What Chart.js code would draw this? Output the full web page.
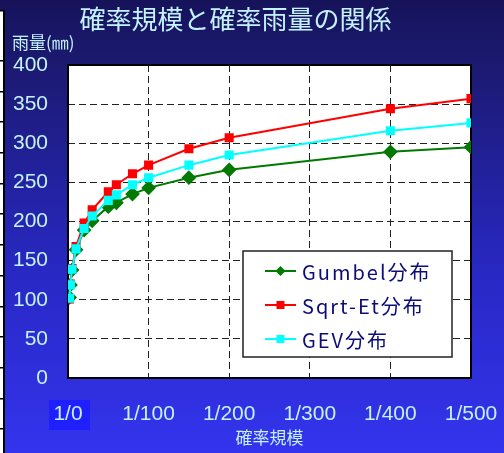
<!DOCTYPE html>
<html>
<head>
<meta charset="utf-8">
<script src="https://cdn.jsdelivr.net/npm/chart.js@4"></script>
<style>
  html, body { margin: 0; padding: 0; background: #1a1766; }
  #wrap { width: 504px; height: 453px; }
</style>
</head>
<body>
<div id="wrap"><canvas id="rainChart" width="504" height="453"></canvas></div>
<script>
// return period (years) -> probable rainfall (mm)
const returnPeriods = [2, 3, 5, 10, 20, 30, 50, 60, 80, 100, 150, 200, 400, 500];
const gumbel = [103, 119, 138, 164, 189, 201, 219, 224, 235, 243, 256, 266, 289, 295];
const sqrtEt = [101, 120, 140, 168, 198, 215, 238, 247, 261, 272, 293, 307, 344, 357];
const gev    = [102, 119, 139, 165, 191, 207, 227, 234, 247, 256, 272, 285, 316, 326];
const seriesNames = ['Gumbel分布', 'Sqrt-Et分布', 'GEV分布'];
const xTicks = [0, 100, 200, 300, 400, 500];
const yTicks = [0, 50, 100, 150, 200, 250, 300, 350, 400];

const labelColor = '#c4f2ff';

function toPoints(values) {
    return returnPeriods.map((p, i) => ({ x: p, y: values[i] }));
}

// background, white plot area, highlighted "1/0" label, left strip
const backdrop = {
    id: 'backdrop',
    beforeDraw(chart) {
        const { ctx, chartArea } = chart;
        const g = ctx.createLinearGradient(0, 0, 0, chart.height);
        g.addColorStop(0, '#16135a');
        g.addColorStop(0.15, '#1c1a72');
        g.addColorStop(0.6, '#2828c4');
        g.addColorStop(1, '#3434ee');
        ctx.save();
        ctx.fillStyle = g;
        ctx.fillRect(0, 0, chart.width, chart.height);

        ctx.fillStyle = '#ffffff';
        ctx.fillRect(chartArea.left, chartArea.top, chartArea.right - chartArea.left, chartArea.bottom - chartArea.top);

        // selection box behind the first x label
        const x0 = chart.scales.x.getPixelForValue(0);
        ctx.fillStyle = '#2020ff';
        ctx.fillRect(x0 - 19, chartArea.bottom + 22, 41, 30);

        // left edge strip
        ctx.fillStyle = '#ffffff';
        ctx.fillRect(0, 10, 3, chart.height - 10);
        ctx.fillStyle = '#000000';
        ctx.fillRect(3, 10, 2, chart.height - 10);
        ctx.fillRect(0, 10, 4, 1.5);
        for (let y = 60; y < chart.height; y += 30.7) {
            ctx.fillRect(0, Math.round(y), 4, 1.5);
        }
        ctx.restore();
    },
    afterDraw(chart) {
        const { ctx } = chart;
        ctx.save();
        // y unit label
        ctx.fillStyle = labelColor;
        ctx.font = '17px "Noto Sans CJK JP"';
        ctx.textBaseline = 'middle';
        ctx.textAlign = 'left';
        ctx.fillText('雨量(㎜)', 12, 43);
        ctx.restore();
    }
};

// plot frame and legend box inside the plot
const frameLegend = {
    id: 'frameLegend',
    beforeDatasetsDraw(chart) {
        const { ctx, chartArea } = chart;
        ctx.save();
        ctx.strokeStyle = '#000000';
        ctx.lineWidth = 2;
        ctx.strokeRect(chartArea.left, chartArea.top, chartArea.right - chartArea.left, chartArea.bottom - chartArea.top);
        ctx.restore();
    },
    afterDatasetsDraw(chart) {
        const { ctx } = chart;
        const bx = 243, by = 251, bw = 209, bh = 106;
        ctx.save();
        ctx.fillStyle = '#ffffff';
        ctx.fillRect(bx, by, bw, bh);
        ctx.strokeStyle = '#222222';
        ctx.lineWidth = 1.5;
        ctx.strokeRect(bx, by, bw, bh);

        const rows = [271, 305, 339];
        ctx.font = '20px "Noto Sans CJK JP"';
        ctx.letterSpacing = '2px';
        ctx.textBaseline = 'middle';
        [0, 1, 2].forEach((di, i) => {
            const ds = chart.data.datasets[di];
            const y = rows[i];
            ctx.strokeStyle = ds.borderColor;
            ctx.lineWidth = 2;
            ctx.beginPath();
            ctx.moveTo(265, y);
            ctx.lineTo(296, y);
            ctx.stroke();
            ctx.fillStyle = ds.pointBackgroundColor;
            ctx.beginPath();
            if (ds.pointStyle === 'rectRot') {
                ctx.moveTo(280.5, y - 5); ctx.lineTo(285.5, y); ctx.lineTo(280.5, y + 5); ctx.lineTo(275.5, y);
            } else {
                ctx.rect(276.5, y - 4, 8, 8);
            }
            ctx.closePath();
            ctx.fill();
            ctx.fillStyle = '#0c0c78';
            ctx.fillText(ds.label, 302, y + 1);
        });
        ctx.restore();
    }
};

const ctx = document.getElementById('rainChart').getContext('2d');
const chart = new Chart(ctx, {
    type: 'line',
    data: {
        datasets: [
            {
                label: seriesNames[0],
                data: toPoints(gumbel),
                borderColor: '#007a00',
                backgroundColor: '#007a00',
                pointBackgroundColor: '#007a00',
                pointBorderColor: '#007a00',
                pointStyle: 'rectRot',
                pointRadius: 6,
                borderWidth: 2,
                order: 2
            },
            {
                label: seriesNames[1],
                data: toPoints(sqrtEt),
                borderColor: '#ff0000',
                backgroundColor: '#ff0000',
                pointBackgroundColor: '#ff0000',
                pointBorderColor: '#ff0000',
                pointStyle: 'rect',
                pointRadius: 5,
                borderWidth: 2,
                order: 1
            },
            {
                label: seriesNames[2],
                data: toPoints(gev),
                borderColor: '#00ffff',
                backgroundColor: '#00ffff',
                pointBackgroundColor: '#00ffff',
                pointBorderColor: '#00ffff',
                pointStyle: 'rect',
                pointRadius: 5,
                borderWidth: 2,
                order: 0
            }
        ]
    },
    options: {
        responsive: false,
        animation: false,
        layout: { padding: { left: 0, right: 33, top: 0, bottom: 0 } },
        plugins: {
            legend: { display: false },
            tooltip: { enabled: false },
            title: {
                display: true,
                text: '確率規模と確率雨量の関係',
                color: labelColor,
                font: { family: '"Noto Sans CJK JP"', size: 26, weight: 'normal', lineHeight: 1.2 },
                padding: { top: 4, bottom: 29.8 }
            }
        },
        scales: {
            x: {
                type: 'linear',
                min: 0,
                max: 500,
                afterBuildTicks(scale) {
                    scale.ticks = xTicks.map(v => ({ value: v }));
                },
                afterFit(scale) {
                    scale.height = 75;
                    scale.paddingLeft = 0;
                    scale.paddingRight = 0;
                },
                grid: { color: '#222222', lineWidth: 1, drawTicks: false },
                border: { display: false, dash: [7, 4] },
                ticks: {
                    color: labelColor,
                    font: { family: '"Liberation Sans", Arial', size: 21 },
                    padding: 24,
                    maxRotation: 0,
                    callback: v => '1/' + v
                },
                title: {
                    display: true,
                    text: '確率規模',
                    color: labelColor,
                    font: { family: '"Noto Sans CJK JP"', size: 17 },
                    padding: { top: 0, bottom: 5 }
                }
            },
            y: {
                min: 0,
                max: 400,
                afterBuildTicks(scale) {
                    scale.ticks = yTicks.map(v => ({ value: v }));
                },
                afterFit(scale) { scale.width = 68; },
                grid: { color: '#222222', lineWidth: 1, drawTicks: false },
                border: { display: false, dash: [7, 4] },
                ticks: {
                    color: labelColor,
                    font: { family: '"Liberation Sans", Arial', size: 21 },
                    padding: 20
                }
            }
        }
    },
    plugins: [backdrop, frameLegend]
});
</script>
</body>
</html>
